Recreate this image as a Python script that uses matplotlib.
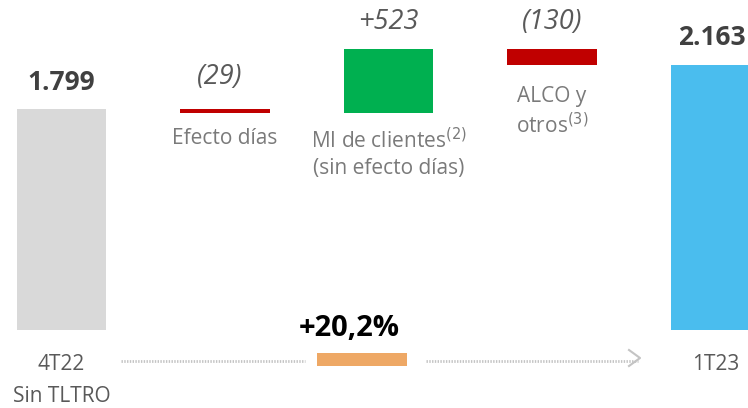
import matplotlib.pyplot as plt

plt.rcParams['font.family'] = ['Open Sans', 'DejaVu Sans']

# waterfall data
start_label = "1.799"
start_val = 1799
deltas = [-29, 523, -130]
delta_labels = ["(29)", "+523", "(130)"]
delta_names = ["Efecto días", "MI de clientes$^{(2)}$\n(sin efecto días)", "ALCO y\notros$^{(3)}$"]
end_val = 2163
end_label = "2.163"
growth = "+20,2%"

GREY = "#d9d9d9"
GREEN = "#00b050"
RED = "#c00000"
BLUE = "#4abdee"
ORANGE = "#eea865"
TXT = "#404040"
LBL = "#7a7a7a"

W, H = 748, 408
fig = plt.figure(figsize=(W / 100, H / 100), dpi=100)
ax = fig.add_axes([0, 0, 1, 1])
ax.axis("off")

# map pixel positions of the original layout to data units
x0, dx = 61.5, 163.5
base, sc = 330, 0.1227
ax.set_xlim(-x0 / dx, (W - x0) / dx)
ax.set_ylim(-(H - base) / sc, base / sc)


def py(p):
    return (base - p) / sc


def px(p):
    return (p - x0) / dx


bw = 0.55
val_y = [77, 22, 22]
val_x = [-0.03, 0, 0]
name_y = [128, 128, 86]

# start bar
ax.bar(0, start_val, width=bw, color=GREY)
ax.text(0, py(82), start_label, ha="center", va="center",
        fontsize=19, fontweight="bold", color=TXT)

level = start_val
for i, d in enumerate(deltas, start=1):
    col = GREEN if d > 0 else RED
    bottom = level if d > 0 else level + d
    ax.bar(i, abs(d), bottom=bottom, width=bw, color=col)
    ax.text(i + val_x[i - 1], py(val_y[i - 1]), delta_labels[i - 1], ha="center", va="center",
            fontsize=19.5, fontstyle="italic", color="#595959")
    ax.text(i, py(name_y[i - 1]), delta_names[i - 1], ha="center", va="top",
            fontsize=15, color=LBL, linespacing=1.3)
    level += d

# end bar
ax.bar(4, end_val, width=bw, color=BLUE)
ax.text(4 - 0.02, py(37), end_label, ha="center", va="center",
        fontsize=19, fontweight="bold", color=TXT)

# bottom labels
ax.text(0, py(364), "4T22", ha="center", va="center", fontsize=15, color="#595959")
ax.text(0, py(397), "Sin TLTRO", ha="center", va="center", fontsize=15, color="#595959")
ax.text(px(716), py(364), "1T23", ha="center", va="center", fontsize=15, color="#595959")

# growth indicator
ax.plot([px(121), px(305)], [py(361), py(361)], color="#c4c4c4", lw=2, ls=(0, (0.5, 0.5)))
ax.plot([px(426), px(638)], [py(361), py(361)], color="#c4c4c4", lw=2, ls=(0, (0.5, 0.5)))
ax.plot([px(629), px(640), px(629)], [py(350), py(358), py(366)], color="#c4c4c4", lw=1.5)
ax.bar(px(362), py(353) - py(366), bottom=py(366), width=90 / dx, color=ORANGE)
ax.text(px(349), py(328), growth, ha="center", va="center",
        fontsize=21, fontweight="bold", color="black")

fig.savefig("out.png", dpi=100)
